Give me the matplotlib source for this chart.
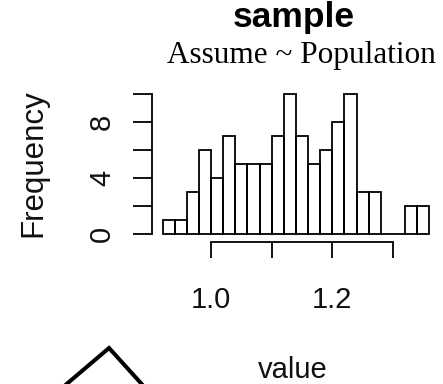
import matplotlib
matplotlib.use("Agg")
import matplotlib.pyplot as plt

# histogram of the sample (bin width 0.02)
bin_left = [0.92, 0.94, 0.96, 0.98, 1.00, 1.02, 1.04, 1.06, 1.08, 1.10, 1.12,
            1.14, 1.16, 1.18, 1.20, 1.22, 1.24, 1.26, 1.28, 1.30, 1.32, 1.34]
counts = [1, 1, 3, 6, 4, 7, 5, 5, 5, 7, 10, 7, 5, 6, 8, 10, 3, 3, 0, 0, 2, 2]
bin_width = 0.02

x_ticks = [1.0, 1.1, 1.2, 1.3]
x_tick_labels = ["1.0", "", "1.2", ""]
y_ticks = [0, 2, 4, 6, 8, 10]
y_tick_labels = ["0", "", "4", "", "8", ""]

# top of a curve from the panel below (cut off by the image edge)
lower_curve_x = [0.0, 0.565, 1.0]
lower_curve_y = [0.0, 1.0, 0.0]

SANS = "Liberation Sans"
SERIF = "Liberation Serif"

W, H = 443, 384
fig = plt.figure(figsize=(W / 100, H / 100), dpi=100)
fig.patch.set_facecolor("white")


def px(x0, y0, x1, y1):
    # pixel box (top-left origin) -> figure fraction rect
    return [x0 / W, 1 - y1 / H, (x1 - x0) / W, (y1 - y0) / H]


ax = fig.add_axes(px(162.5, 94.3, 429.4, 234.3))
ax.bar(bin_left, counts, width=bin_width, align="edge", fill=False,
       edgecolor="black", linewidth=1.3, clip_on=False)
ax.set_xlim(0.92, 1.36)
ax.set_ylim(0, 10)

for side in ("top", "right"):
    ax.spines[side].set_visible(False)
ax.spines["left"].set_position(("outward", 7.3))
ax.spines["left"].set_bounds(0, 10)
ax.spines["bottom"].set_position(("outward", 5.5))
ax.spines["bottom"].set_bounds(1.0, 1.3)
for side in ("left", "bottom"):
    ax.spines[side].set_linewidth(1.3)

ax.set_xticks(x_ticks)
ax.set_xticklabels(x_tick_labels, fontfamily=SANS, fontsize=21, color="#111111")
ax.set_yticks(y_ticks)
ax.set_yticklabels(y_tick_labels, fontfamily=SANS, fontsize=21,
                   rotation=90, va="center", color="#111111")
ax.tick_params(axis="x", length=11.5, width=1.3, pad=20)
ax.tick_params(axis="y", length=13.7, width=1.3, pad=12.5)

fig.text(294 / W, 1 - 27 / H, "sample", ha="center", va="baseline",
         fontfamily=SANS, fontweight="bold", fontsize=25.5)
fig.text(301 / W, 1 - 62.5 / H, "Assume ~ Population", ha="center",
         va="baseline", fontfamily=SERIF, fontsize=22.5)
fig.text(33.5 / W, 1 - 163.5 / H, "Frequency", rotation=90, ha="center",
         va="center", fontfamily=SANS, fontsize=22.5, color="#111111")
fig.text(293 / W, 1 - 377.7 / H, "value", ha="center", va="baseline",
         fontfamily=SANS, fontsize=21, color="#111111")

ax2 = fig.add_axes(px(59.6, 348, 147.1, 390))
ax2.plot(lower_curve_x, lower_curve_y, color="black", linewidth=2.9,
         solid_joinstyle="miter", clip_on=False)
ax2.set_xlim(0, 1)
ax2.set_ylim(0, 1)
ax2.axis("off")

fig.savefig("out.png", dpi=100, facecolor="white")
